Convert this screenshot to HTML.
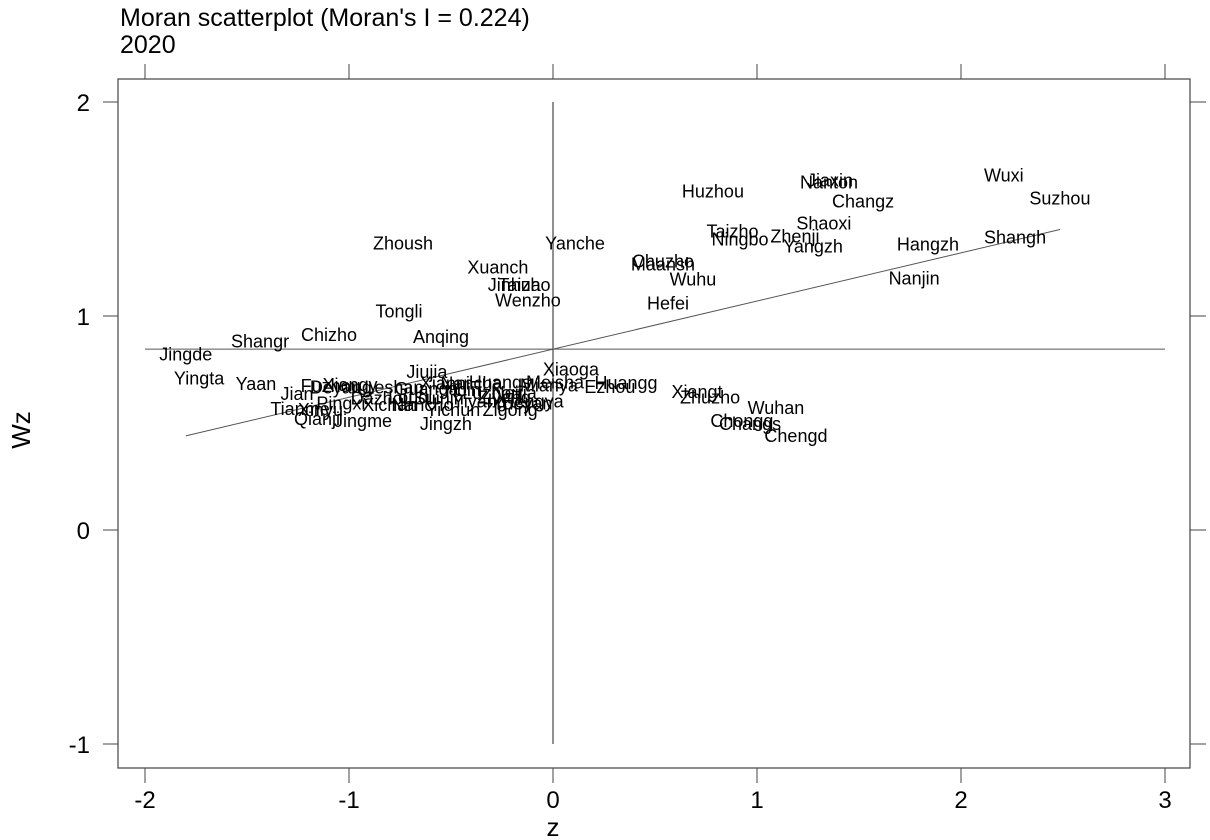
<!DOCTYPE html>
<html><head><meta charset="utf-8"><style>
body{margin:0;background:#fff;}
svg{display:block;font-family:"Liberation Sans",sans-serif;}
</style></head><body>
<svg id="chart" width="1210" height="840">
<text x="120" y="26" font-size="25">Moran scatterplot (Moran's I = 0.224)</text>
<text x="120" y="53" font-size="25">2020</text>
<rect x="118" y="79" width="1072" height="689" fill="none" stroke="#444" stroke-width="1.2"/>
<text x="30" y="430" font-size="26" text-anchor="middle" transform="rotate(-90 30 430)">Wz</text>
<text x="553" y="836" font-size="26" text-anchor="middle">z</text>
<g id="axes"></g>
<g id="lines"></g>
<g id="labels"></g>
</svg>
<script>
const xTicks=[-2,-1,0,1,2,3];
const yTicks=[-1,0,1,2];
const slope=0.225;
const intercept=0.845;
const names=["Wuxi","Suzhou","Jiaxin","Nanton","Changz","Huzhou","Shaoxi","Taizho","Ningbo","Zhenji","Yangzh","Shangh","Hangzh","Nanjin","Zhoush","Yanche","Xuanch","Chuzho","Maansh","Wuhu","Jinhua","Taizho","Wenzho","Hefei","Tongli","Chizho","Anqing","Shangr","Jingde","Yingta","Yaan","Jiujia","Xiaoga","Huangg","Ezhou","Xiangt","Zhuzho","Wuhan","Chongq","Changs","Chengd","Jingzh","Jingme","Qianji","Jian","Tianme","Xinyu","Fuzhou","Deyang","Xiangy","Pingxi","Xichan","Nancho","Yichun","Zigong","Huangs","Nancha","Xianni","Mianya","Meisha","Leshan","Guanga","Yibin","Luzhou","Neijia","Dazhou","Suinin","Ziyang","Yiyang","Loudi","Hengya","Yueyan"];
const xs=[2.21,2.485,1.358,1.353,1.52,0.784,1.328,0.88,0.917,1.186,1.275,2.265,1.838,1.77,-0.735,0.108,-0.27,0.539,0.539,0.686,-0.19,-0.14,-0.123,0.564,-0.755,-1.098,-0.549,-1.436,-1.8,-1.735,-1.456,-0.618,0.088,0.358,0.279,0.706,0.77,1.093,0.926,0.966,1.191,-0.525,-0.931,-1.157,-1.255,-1.24,-1.14,-1.09,-1.04,-0.995,-1.04,-0.80,-0.64,-0.49,-0.21,-0.26,-0.40,-0.53,-0.02,0.01,-0.78,-0.62,-0.45,-0.30,-0.19,-0.84,-0.56,-0.24,-0.36,-0.70,-0.10,-0.15];
const ys=[1.657,1.549,1.633,1.624,1.535,1.582,1.432,1.394,1.357,1.371,1.324,1.366,1.334,1.175,1.338,1.338,1.226,1.254,1.24,1.17,1.146,1.146,1.072,1.058,1.02,0.912,0.903,0.88,0.819,0.707,0.683,0.739,0.749,0.688,0.669,0.646,0.618,0.571,0.51,0.496,0.44,0.496,0.51,0.519,0.636,0.566,0.56,0.672,0.665,0.678,0.59,0.585,0.585,0.56,0.56,0.69,0.685,0.685,0.675,0.69,0.665,0.66,0.655,0.64,0.64,0.615,0.615,0.62,0.6,0.62,0.6,0.59];
const X0=145,X1=1165,Y0=530,Y1=316;
function sx(v){return X0+(v+2)*(X1-X0)/5;}
function sy(v){return Y0-v*(Y0-Y1);}
const NS="http://www.w3.org/2000/svg";
function mk(tag,attrs,parent){const e=document.createElementNS(NS,tag);for(const k in attrs)e.setAttribute(k,attrs[k]);parent.appendChild(e);return e;}
const axes=document.getElementById('axes');
xTicks.forEach(t=>{
  const x=sx(t);
  const a=mk('line',{x1:x,x2:x,y1:768,y2:783,stroke:'#444'},axes);
  
  
  const b=mk('line',{x1:x,x2:x,y1:64,y2:79,stroke:'#444'},axes);
  
  
  const l=mk('text',{x:x,y:808,'font-size':24,'text-anchor':'middle'},axes);
  l.textContent=t;
  
  
});
yTicks.forEach(t=>{
  const y=sy(t);
  const a=mk('line',{x1:103,x2:118,y1:y,y2:y,stroke:'#444'},axes);
  
  
  const b=mk('line',{x1:1190,x2:1206,y1:y,y2:y,stroke:'#444'},axes);
  
  
  const l=mk('text',{x:90,y:y+9,'font-size':24,'text-anchor':'end'},axes);
  l.textContent=t;
  
  
});
const lines=document.getElementById('lines');
const h=mk('line',{x1:sx(-2),x2:sx(3),y1:sy(intercept),y2:sy(intercept),stroke:'#555','stroke-width':1},lines);


const v=mk('line',{x1:sx(0),x2:sx(0),y1:sy(2),y2:sy(-1),stroke:'#222','stroke-width':1},lines);


const xmin=Math.min(...xs),xmax=Math.max(...xs);
const r=mk('line',{x1:sx(xmin),x2:sx(xmax),y1:sy(intercept+slope*xmin),y2:sy(intercept+slope*xmax),stroke:'#555','stroke-width':1},lines);


const lab=document.getElementById('labels');
names.forEach((n,i)=>{
  const t=mk('text',{x:sx(xs[i]),y:sy(ys[i])+6,'font-size':18,'text-anchor':'middle'},lab);
  t.textContent=n;
  
  
});
</script>
</body></html>
